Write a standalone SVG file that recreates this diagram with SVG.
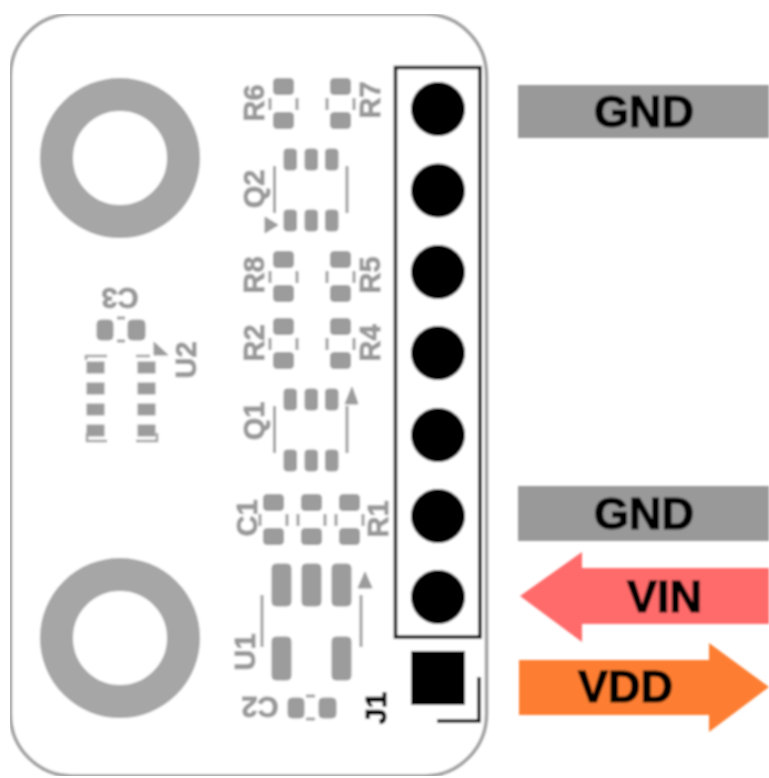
<svg xmlns="http://www.w3.org/2000/svg" width="769" height="778" viewBox="0 0 769 778">
<style>
.p{fill:#9c9c9c;stroke:#9c9c9c;stroke-width:1}
.l{stroke:#a0a0a0;stroke-width:3;fill:none}
.t{font-family:"Liberation Sans",Arial,sans-serif;font-size:29px;font-weight:700;fill:#999;stroke:#999;stroke-width:.9;text-anchor:middle}
.b{font-family:"Liberation Sans",Arial,sans-serif;font-size:45px;font-weight:700;fill:#000;stroke:#000;stroke-width:1.200;text-anchor:middle}
.k{fill:#000}
</style>
<defs>
<filter id="soft" x="0" y="0" width="100%" height="100%"><feGaussianBlur stdDeviation="0.8"/></filter>
<g id="res">
<rect class="p" x="0.500" y="0.500" width="20" height="16" rx="3.500"/>
<rect class="p" x="0.500" y="34.500" width="20" height="16" rx="3.500"/>
<path class="l" d="M-3 20V32M24 20V32"/>
</g>
<g id="sot">
<rect class="p" x="0" y="0" width="12.500" height="21" rx="3"/>
<rect class="p" x="21" y="0" width="12.500" height="21" rx="3"/>
<rect class="p" x="41.500" y="0" width="12.500" height="21" rx="3"/>
<rect class="p" x="0" y="61" width="12.500" height="21" rx="3"/>
<rect class="p" x="21" y="61" width="12.500" height="21" rx="3"/>
<rect class="p" x="41.500" y="61" width="12.500" height="21" rx="3"/>
<path class="l" d="M-9.500 17V64M63 17V64"/>
</g>
</defs>
<rect width="769" height="778" fill="#fff"/>
<g filter="url(#soft)">
<g id="board"><rect x="10.500" y="14" width="476" height="762" rx="62" fill="#fff" stroke="#a0a0a0" stroke-width="3.500"/></g>
<g id="hole-top"><circle cx="120" cy="158" r="63.500" fill="none" stroke="#a6a6a6" stroke-width="33"/></g>
<g id="hole-bottom"><circle cx="120" cy="638" r="63.500" fill="none" stroke="#a6a6a6" stroke-width="33"/></g>
<g id="R6"><use href="#res" x="273" y="78"/><text class="t" transform="translate(264 103) rotate(-90)">R6</text></g>
<g id="R7"><use href="#res" x="330" y="78"/><text class="t" transform="translate(380 100) rotate(-90)">R7</text></g>
<g id="Q2"><use href="#sot" x="284" y="149"/><path class="p" d="M265 217V233L278 225Z"/><text class="t" transform="translate(264 189) rotate(-90)">Q2</text></g>
<g id="R8"><use href="#res" x="273" y="251"/><text class="t" transform="translate(264 275) rotate(-90)">R8</text></g>
<g id="R5"><use href="#res" x="330" y="251"/><text class="t" transform="translate(380 275) rotate(-90)">R5</text></g>
<g id="R2"><use href="#res" x="273" y="318"/><text class="t" transform="translate(264 343) rotate(-90)">R2</text></g>
<g id="R4"><use href="#res" x="330" y="318"/><text class="t" transform="translate(380 343) rotate(-90)">R4</text></g>
<g id="Q1"><use href="#sot" x="284" y="389"/><path class="p" d="M352 387L345 404H358Z"/><text class="t" transform="translate(264 421) rotate(-90)">Q1</text></g>
<g id="C1"><use href="#res" x="263" y="494"/><text class="t" transform="translate(257 518) rotate(-90)">C1</text></g>
<g id="Cx"><use href="#res" x="301" y="494"/></g>
<g id="R1"><use href="#res" x="339" y="494"/><text class="t" transform="translate(388 519) rotate(-90)">R1</text></g>
<g id="U1">
<rect class="p" x="272" y="564" width="19" height="42" rx="4"/>
<rect class="p" x="302" y="564" width="19" height="42" rx="4"/>
<rect class="p" x="332" y="564" width="19" height="42" rx="4"/>
<rect class="p" x="272" y="637" width="19" height="43" rx="4"/>
<rect class="p" x="332" y="637" width="19" height="43" rx="4"/>
<path class="l" d="M262 595V647M361 595V647"/>
<path class="p" d="M365 572L358 588H372Z"/>
<text class="t" transform="translate(255 652) rotate(-90)">U1</text>
</g>
<g id="C2">
<rect class="p" x="288" y="698" width="16" height="20" rx="4"/>
<rect class="p" x="319" y="698" width="17" height="20" rx="4"/>
<path class="l" d="M306 696H315M306 719H315"/>
<text class="t" transform="translate(260 697) rotate(180)">C2</text>
</g>
<g id="C3">
<rect class="p" x="97" y="320" width="16" height="20" rx="4"/>
<rect class="p" x="128" y="320" width="17" height="20" rx="4"/>
<path class="l" d="M117 318H125M117 341H125"/>
<text class="t" transform="translate(120 288) rotate(180)">C3</text>
</g>
<g id="U2">
<rect class="p" x="87" y="362" width="17" height="11"/>
<rect class="p" x="87" y="383" width="17" height="11"/>
<rect class="p" x="87" y="404" width="17" height="11"/>
<rect class="p" x="87" y="425" width="17" height="11"/>
<rect class="p" x="138" y="362" width="17" height="11"/>
<rect class="p" x="138" y="383" width="17" height="11"/>
<rect class="p" x="138" y="404" width="17" height="11"/>
<rect class="p" x="138" y="425" width="17" height="11"/>
<path class="l" style="stroke-width:2.500" d="M86 360V356H107M136 356H150M87 433V441H107M136 441H157V433"/>
<path class="p" d="M154 342L168 355H154Z"/>
<text class="t" transform="translate(196 360) rotate(-90)">U2</text>
</g>
<g id="J1">
<rect x="395.500" y="67.500" width="84.500" height="569.500" fill="none" stroke="#000" stroke-width="3.500"/>
<circle class="k" cx="438" cy="109" r="27"/>
<circle class="k" cx="438" cy="190.500" r="27"/>
<circle class="k" cx="438" cy="272" r="27"/>
<circle class="k" cx="438" cy="353" r="27"/>
<circle class="k" cx="438" cy="435" r="27"/>
<circle class="k" cx="438" cy="516" r="27"/>
<circle class="k" cx="438" cy="597" r="27"/>
<rect class="k" x="411" y="651" width="54" height="54"/>
<path d="M479 677V721H437" fill="none" stroke="#000" stroke-width="3.500"/>
<text transform="translate(386 708) rotate(-90)" font-family="'Liberation Sans',Arial,sans-serif" font-size="29" font-weight="700" fill="#000" stroke="#000" stroke-width=".9" text-anchor="middle">J1</text>
</g>
<g id="label-gnd-1"><rect x="518" y="85" width="251" height="53" fill="#999"/><text class="b" x="644" y="127">GND</text></g>
<g id="label-gnd-2"><rect x="518" y="486" width="251" height="55" fill="#999"/><text class="b" x="644" y="529">GND</text></g>
<g id="label-vin"><path d="M520 596L582 552V568H769V624H582V642Z" fill="#ff6b6b"/><text class="b" x="664.500" y="612">VIN</text></g>
<g id="label-vdd"><path d="M519 660H709V643L769 687L709 732V715H519Z" fill="#fd7e33"/><text class="b" x="625.500" y="702">VDD</text></g>
</g>
</svg>
